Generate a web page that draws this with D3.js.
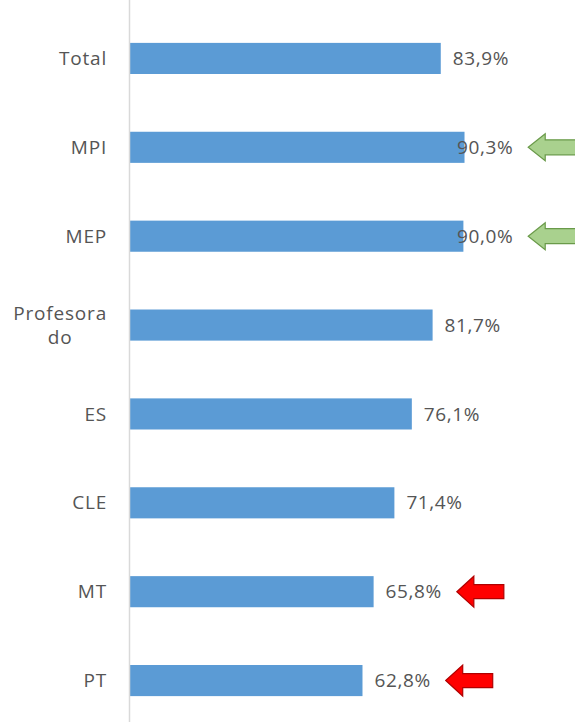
<!DOCTYPE html>
<html lang="es">
<head>
<meta charset="utf-8">
<script src="https://cdn.jsdelivr.net/npm/d3@7"></script>
<style>
  body { margin: 0; background: #fff; }
  text { font-family: "Open Sans", "Liberation Sans", sans-serif; fill: #555555; }
</style>
</head>
<body>
<script>
var width = 575;
var height = 722;

// data
var categories = ["Total", "MPI", "MEP", "Profesorado", "ES", "CLE", "MT", "PT"];
var values = [83.9, 90.3, 90.0, 81.7, 76.1, 71.4, 65.8, 62.8];
var valueLabels = ["83,9%", "90,3%", "90,0%", "81,7%", "76,1%", "71,4%", "65,8%", "62,8%"];
var catLines = { "Profesorado": ["Profesora", "do"] };
var goodArrows = ["MPI", "MEP"];   // green arrows
var badArrows = ["MT", "PT"];      // red arrows

var axisX = 129.5;

var svg = d3.select("body").append("svg")
    .attr("width", width)
    .attr("height", height);

var x = d3.scaleLinear().domain([0, 100]).range([axisX, axisX + 371]);
var y = d3.scaleBand().domain(categories).range([14, 725])
    .paddingInner(0.65).paddingOuter(0.325);

// bars
svg.selectAll("rect.bar")
    .data(categories)
    .enter().append("rect")
    .attr("class", "bar")
    .attr("x", axisX)
    .attr("y", function(d) { return y(d); })
    .attr("width", function(d, i) { return x(values[i]) - axisX; })
    .attr("height", y.bandwidth())
    .attr("fill", "#5b9bd5");

// vertical axis line
svg.append("line")
    .attr("x1", axisX).attr("x2", axisX)
    .attr("y1", 0).attr("y2", height)
    .attr("stroke", "#d9d9d9")
    .attr("stroke-width", 1.5);

// category labels
categories.forEach(function(c) {
    var cy = y(c) + y.bandwidth() / 2;
    var lines = catLines[c] || [c];
    if (lines.length == 1) {
        svg.append("text")
            .attr("x", 107).attr("y", cy)
            .attr("dy", "0.35em")
            .attr("text-anchor", "end")
            .style("font-size", "19px")
            .style("letter-spacing", "0.8px")
            .text(c);
    } else {
        var first = svg.append("text")
            .attr("x", 107).attr("y", cy - 12)
            .attr("dy", "0.35em")
            .attr("text-anchor", "end")
            .style("font-size", "19px")
            .style("letter-spacing", "0.8px")
            .text(lines[0]);
        var w = first.node().getComputedTextLength();
        var mid = 107 - w / 2;
        svg.append("text")
            .attr("x", mid).attr("y", cy + 12)
            .attr("dy", "0.35em")
            .attr("text-anchor", "middle")
            .style("font-size", "19px")
            .style("letter-spacing", "0.8px")
            .text(lines[1]);
    }
});

// value labels + arrows
categories.forEach(function(c, i) {
    var cy = y(c) + y.bandwidth() / 2;
    var lx = Math.min(x(values[i]) + 12, 457);
    var t = svg.append("text")
        .attr("x", lx).attr("y", cy)
        .attr("dy", "0.35em")
        .style("font-size", "19px")
        .style("letter-spacing", "0.6px")
        .text(valueLabels[i]);
    var tip = lx + t.node().getComputedTextLength() + 15;

    if (goodArrows.indexOf(c) >= 0) {
        drawArrow(tip, cy, 13.5, 7.5, 17, 70, "#a9d18e", "#6a9a4a");
    }
    if (badArrows.indexOf(c) >= 0) {
        drawArrow(tip, cy, 15.5, 7, 17, 47, "#ff0000", "#b00000");
    }
});

function drawArrow(tx, cy, headH, shaftH, headL, totalL, fill, stroke) {
    var pts = [
        [tx, cy],
        [tx + headL, cy - headH],
        [tx + headL, cy - shaftH],
        [tx + totalL, cy - shaftH],
        [tx + totalL, cy + shaftH],
        [tx + headL, cy + shaftH],
        [tx + headL, cy + headH]
    ];
    svg.append("path")
        .attr("d", d3.line()(pts) + "Z")
        .attr("fill", fill)
        .attr("stroke", stroke)
        .attr("stroke-width", 1.2)
        .attr("stroke-linejoin", "miter");
}
</script>
</body>
</html>
